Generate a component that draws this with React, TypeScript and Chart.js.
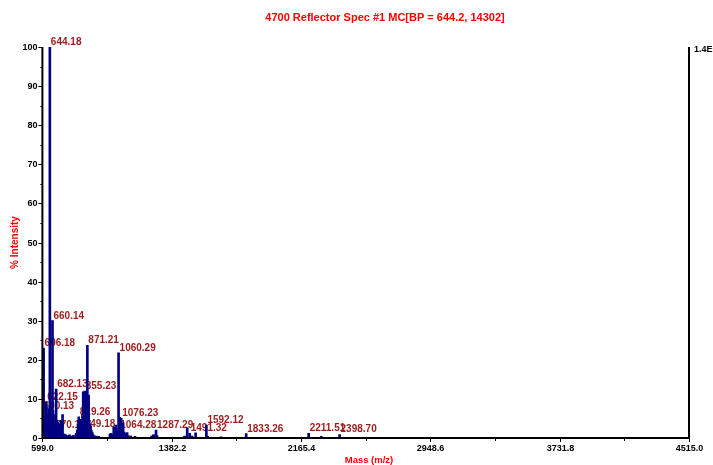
import { useEffect, useRef } from 'react';
import { Chart, registerables } from 'chart.js';

Chart.register(...registerables);

// MALDI reflector spectrum: peak centroids (m/z) and relative intensity (%)
const massValues = [
  600.13, 603.1, 606.18, 609.2, 614.1, 618.2, 622.15, 627.2, 632.1, 636.2,
  640.1, 644.18, 647.2, 650.1, 654.2, 660.14, 663.2, 666.1, 670.14, 674.2,
  678.1, 682.13, 686.2, 691.1, 695.2, 700.1, 705.2, 710.1, 716.2, 721.1,
  726.2, 732.1, 740.0, 752.0, 763.0, 775.0, 787.0,
  803.0, 810.0, 815.0, 819.26, 824.0, 829.0, 834.0, 838.0, 842.0, 846.0,
  849.18, 852.0, 855.23, 859.0, 863.0, 867.0, 871.21, 875.0, 879.0, 883.0,
  887.0, 891.0, 895.0, 900.0, 905.0, 912.0, 925.0, 940.0,
  1008.0, 1015.0, 1022.0, 1031.0, 1038.0, 1044.0, 1050.0, 1055.0, 1060.29,
  1064.28, 1068.0, 1072.0, 1076.23, 1082.0, 1088.0, 1094.0, 1100.0, 1106.0,
  1112.0, 1120.0, 1135.0, 1160.0,
  1260.0, 1270.0, 1281.0, 1287.29, 1293.0,
  1460.0, 1476.0, 1491.32, 1505.0, 1527.0, 1592.12, 1600.0, 1680.0,
  1833.26, 2211.51, 2288.0, 2398.70,
];

const intensityValues = [
  7.0, 4.0, 23.0, 3.5, 5.5, 3.0, 9.2, 6.0, 3.0, 7.5,
  5.0, 100.0, 9.0, 4.0, 6.0, 30.0, 7.0, 3.0, 2.0, 4.0,
  6.0, 12.5, 4.5, 4.0, 2.0, 3.5, 1.5, 4.5, 1.5, 6.0,
  1.0, 1.0, 0.8, 0.6, 0.8, 0.5, 0.7,
  1.2, 2.0, 3.5, 5.4, 2.5, 4.8, 3.0, 4.0, 6.0, 11.8,
  2.2, 4.0, 12.0, 4.5, 3.0, 5.0, 23.7, 6.0, 11.0, 4.5,
  3.5, 3.0, 2.0, 1.5, 1.0, 0.6, 0.5, 0.4,
  1.0, 1.2, 0.8, 2.8, 1.5, 3.3, 1.2, 2.0, 21.8,
  2.0, 5.3, 3.0, 5.0, 2.0, 3.9, 1.5, 1.2, 0.8,
  1.4, 0.6, 0.5, 0.4,
  0.5, 0.8, 0.9, 2.0, 0.6,
  0.5, 2.6, 1.2, 0.5, 1.3, 3.3, 0.4, 0.3,
  1.1, 1.2, 0.4, 0.9,
];

// Peaks annotated with their m/z
const labeledMasses = [
  600.13, 606.18, 622.15, 644.18, 660.14, 670.14, 682.13, 819.26, 849.18,
  855.23, 871.21, 1060.29, 1064.28, 1076.23, 1287.29, 1491.32, 1592.12,
  1833.26, 2211.51, 2398.70,
];

const xTickValues = [599.0, 1382.2, 2165.4, 2948.6, 3731.8, 4515.0];
const yTickValues = [0, 10, 20, 30, 40, 50, 60, 70, 80, 90, 100];

const TITLE = '4700 Reflector Spec #1 MC[BP = 644.2, 14302]';
const X_TITLE = 'Mass (m/z)';
const Y_TITLE = '% Intensity';
const FULL_SCALE = '1.4E+4';

const FONT = '"Liberation Sans", Arial, sans-serif';
const LABEL_RED = '#9a1c1c';
const TITLE_RED = '#ff0000';
const BAR_BLUE = '#000080';

const spectrumDecor = {
  id: 'spectrumDecor',
  beforeDatasetsDraw(chart: any) {
    const { ctx, scales } = chart;
    const xs = scales.x;
    const ys = scales.y;
    ctx.save();
    ctx.fillStyle = LABEL_RED;
    ctx.font = `bold 10px ${FONT}`;
    ctx.textAlign = 'left';
    ctx.textBaseline = 'alphabetic';
    for (const m of labeledMasses) {
      const i = massValues.indexOf(m);
      if (i < 0) continue;
      const px = xs.getPixelForValue(m);
      const py = ys.getPixelForValue(intensityValues[i]);
      ctx.fillText(m.toFixed(2), px + 1, py - 2);
    }
    ctx.restore();
  },
  afterDatasetsDraw(chart: any) {
    const { ctx, chartArea, scales } = chart;
    const { left, right, top, bottom } = chartArea;
    const xs = scales.x;
    const ys = scales.y;
    ctx.save();

    // axis frame: left, bottom and right full-scale line
    ctx.strokeStyle = '#000';
    ctx.lineWidth = 2;
    ctx.beginPath();
    ctx.moveTo(left, top);
    ctx.lineTo(left, bottom);
    ctx.lineTo(right, bottom);
    ctx.moveTo(right, top);
    ctx.lineTo(right, bottom);
    ctx.stroke();

    // y ticks (major every 10, minor every 5)
    ctx.lineWidth = 1;
    ctx.fillStyle = '#000';
    ctx.font = `bold 9px ${FONT}`;
    ctx.textAlign = 'right';
    ctx.textBaseline = 'middle';
    for (let k = 0; k < yTickValues.length; k++) {
      const v = yTickValues[k];
      const py = Math.round(ys.getPixelForValue(v)) + 0.5;
      ctx.beginPath();
      ctx.moveTo(left - 4, py);
      ctx.lineTo(left, py);
      ctx.stroke();
      ctx.fillText(String(v), left - 5, py);
      if (k < yTickValues.length - 1) {
        const mid = (v + yTickValues[k + 1]) / 2;
        const pm = Math.round(ys.getPixelForValue(mid)) + 0.5;
        ctx.beginPath();
        ctx.moveTo(left - 2, pm);
        ctx.lineTo(left, pm);
        ctx.stroke();
      }
    }

    // x ticks (labelled major ticks, unlabelled midpoints)
    ctx.textAlign = 'center';
    ctx.textBaseline = 'top';
    for (let k = 0; k < xTickValues.length; k++) {
      const v = xTickValues[k];
      const px = Math.round(xs.getPixelForValue(v)) + 0.5;
      ctx.beginPath();
      ctx.moveTo(px, bottom);
      ctx.lineTo(px, bottom + 4);
      ctx.stroke();
      ctx.fillText(v.toFixed(1), px, bottom + 6);
      if (k < xTickValues.length - 1) {
        const mid = (v + xTickValues[k + 1]) / 2;
        const pm = Math.round(xs.getPixelForValue(mid)) + 0.5;
        ctx.beginPath();
        ctx.moveTo(pm, bottom);
        ctx.lineTo(pm, bottom + 3);
        ctx.stroke();
      }
    }

    // full-scale intensity on the right axis
    ctx.textAlign = 'left';
    ctx.textBaseline = 'middle';
    ctx.font = `bold 9px ${FONT}`;
    ctx.fillText(FULL_SCALE, right + 5, top + 3);

    // titles
    ctx.fillStyle = TITLE_RED;
    ctx.font = `bold 11px ${FONT}`;
    ctx.textAlign = 'center';
    ctx.fillText(TITLE, 385, 18);

    ctx.font = `bold 9.5px ${FONT}`;
    ctx.fillText(X_TITLE, 369, bottom + 22);

    ctx.save();
    ctx.translate(15, (top + bottom) / 2);
    ctx.rotate(-Math.PI / 2);
    ctx.font = `bold 10px ${FONT}`;
    ctx.fillText(Y_TITLE, 0, 0);
    ctx.restore();

    ctx.restore();
  },
};

export default function App() {
  const canvasRef = useRef<HTMLCanvasElement | null>(null);

  useEffect(() => {
    const canvas = canvasRef.current;
    if (!canvas) return;
    const points = massValues.map((m, i) => ({ x: m, y: intensityValues[i] }));
    const chart = new Chart(canvas, {
      type: 'bar',
      data: {
        datasets: [
          {
            data: points as any,
            backgroundColor: BAR_BLUE,
            borderWidth: 0,
            barThickness: 2,
          },
        ],
      },
      options: {
        responsive: false,
        animation: false,
        layout: { padding: { left: 42.4, right: 24, top: 47, bottom: 27 } },
        plugins: {
          legend: { display: false },
          tooltip: { enabled: false },
          title: { display: false },
        },
        scales: {
          x: {
            type: 'linear',
            min: xTickValues[0],
            max: xTickValues[xTickValues.length - 1],
            offset: false,
            display: false,
          },
          y: {
            type: 'linear',
            min: 0,
            max: 100,
            display: false,
          },
        },
      },
      plugins: [spectrumDecor],
    });
    return () => chart.destroy();
  }, []);

  return (
    <div style={{ position: 'absolute', left: 0, top: 0, width: 713, height: 465, background: '#fff' }}>
      <canvas ref={canvasRef} width={713} height={465} style={{ display: 'block' }} />
    </div>
  );
}
